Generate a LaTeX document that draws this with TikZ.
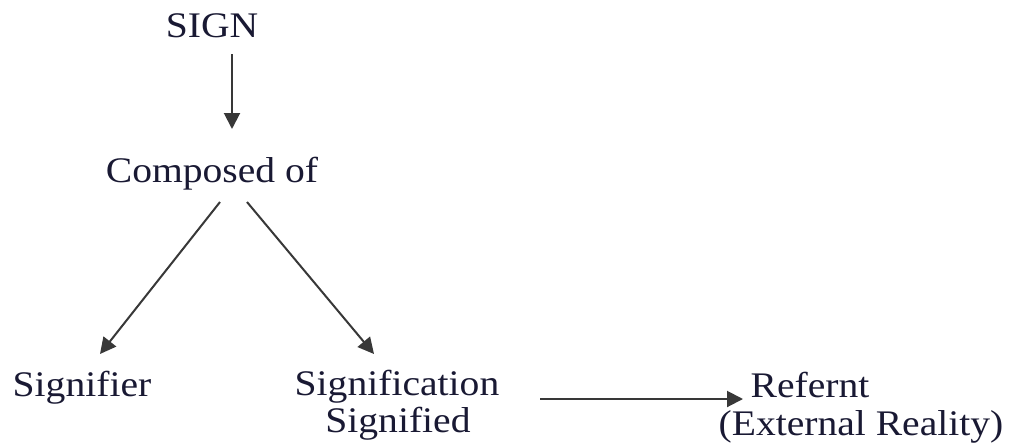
\documentclass[tikz,border=0pt]{standalone}
\usepackage{fontspec}
\setmainfont[FakeStretch=1.1]{Liberation Serif}
\usetikzlibrary{arrows.meta}
\definecolor{txt}{rgb}{0.10,0.10,0.20}
\definecolor{ln}{rgb}{0.22,0.22,0.22}
\begin{document}
\begin{tikzpicture}[x=1pt,y=-1pt,
  lbl/.style={inner sep=0pt,anchor=base,text=txt,font=\fontsize{36}{37}\selectfont},
  conn/.style={draw=ln,line width=2pt,-{Triangle[length=16pt,width=16pt]}}]
\useasboundingbox (0,0) rectangle (1011,442);
\node[lbl] (sign) at (212,37) {SIGN};
\node[lbl] (comp) at (212,182) {Composed of};
\node[lbl] (sfr) at (82,396) {Signifier};
\node[lbl] (sfc) at (397,395) {Signification};
\node[lbl] (sfd) at (398,432) {Signified};
\node[lbl] (ref) at (810,397) {Refernt};
\node[lbl] (ext) at (861,435) {(External Reality)};
\coordinate (a1s) at (232,54);
\coordinate (a1e) at (232,129);
\coordinate (a2s) at (220,202);
\coordinate (a2e) at (100,354);
\coordinate (a3s) at (247,202);
\coordinate (a3e) at (374,354);
\coordinate (a4s) at (540,399);
\coordinate (a4e) at (743,399);
\draw[conn] (a1s) -- (a1e);
\draw[conn] (a2s) -- (a2e);
\draw[conn] (a3s) -- (a3e);
\draw[conn] (a4s) -- (a4e);
\end{tikzpicture}
\end{document}
